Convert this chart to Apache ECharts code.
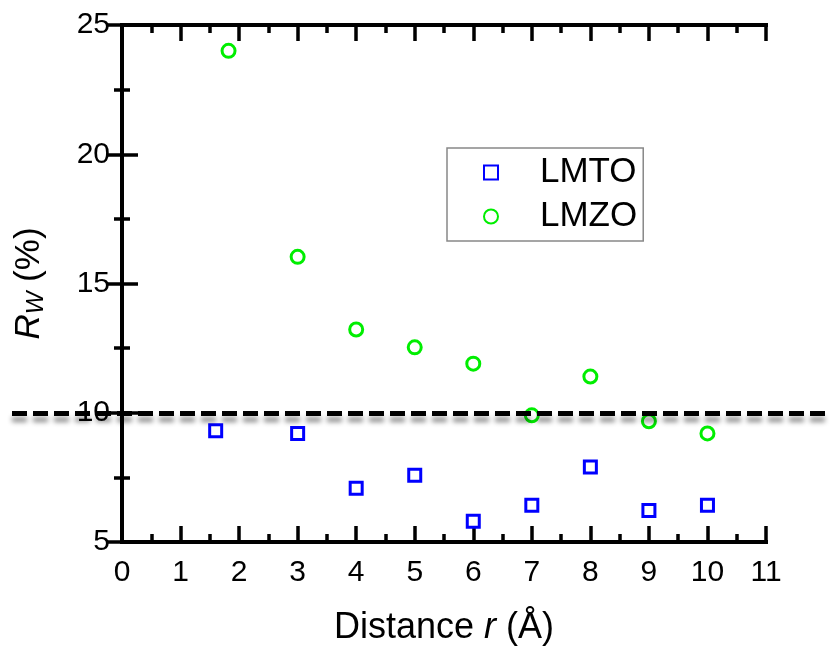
<!DOCTYPE html>
<html>
<head>
<meta charset="utf-8">
<script src="https://cdn.jsdelivr.net/npm/echarts@6/dist/echarts.min.js"></script>
<style>html,body{margin:0;padding:0;background:#fff}#c{width:831px;height:651px}</style>
</head>
<body>
<div id="c"></div>
<script>
const lmtoX = [1.6, 3, 4, 5, 6, 7, 8, 9, 10];
const lmtoY = [9.3, 9.2, 7.08, 7.58, 5.8, 6.42, 7.9, 6.22, 6.42];
const lmzoX = [1.82, 3, 4, 5, 6, 7, 8, 9, 10];
const lmzoY = [24.0, 16.03, 13.22, 12.53, 11.9, 9.9, 11.4, 9.67, 9.2];
const threshold = 10;
const xTicks = [0, 1, 2, 3, 4, 5, 6, 7, 8, 9, 10, 11];
const yTicks = [5, 10, 15, 20, 25];

const font = "'Liberation Sans', Arial, sans-serif";
function axisCommon() {
  return {
    axisLine: { show: true, lineStyle: { color: '#000', width: 4, cap: 'square' } },
    axisTick: { show: true, inside: true, length: 16, lineStyle: { color: '#000', width: 3.5 } },
    minorTick: { show: true, splitNumber: 2, length: 8, lineStyle: { color: '#000', width: 3.5 } },
    splitLine: { show: false }
  };
}
const xBase = { type: 'value', gridIndex: 0, min: xTicks[0], max: xTicks[xTicks.length - 1], interval: 1 };
const yBase = { type: 'value', gridIndex: 0, min: yTicks[0], max: yTicks[yTicks.length - 1], interval: 5 };

const chart = echarts.init(document.getElementById('c'));
chart.setOption({
  animation: false,
  backgroundColor: '#fff',
  grid: [
    { left: 122, right: 65, top: 25, bottom: 108 },
    { left: 12, right: 0, top: 25, bottom: 108 }
  ],
  legend: {
    orient: 'vertical',
    left: 447, top: 148,
    padding: [7, 6, 7, 36],
    itemWidth: 14, itemHeight: 14, itemGap: 9,
    borderColor: '#888', borderWidth: 1.5,
    textStyle: { fontFamily: font, fontSize: 35, color: '#000', lineHeight: 34, padding: [0, 0, 0, 37] },
    data: ['LMTO', 'LMZO']
  },
  xAxis: [
    Object.assign({}, xBase, axisCommon(), {
      position: 'bottom',
      axisLabel: { show: true, fontFamily: font, fontSize: 30, color: '#000', margin: 16 },
      name: 'Distance {i|r} (Å)', nameLocation: 'middle', nameGap: 68,
      nameTextStyle: { fontFamily: font, fontSize: 36, color: '#000', rich: { i: { fontFamily: font, fontSize: 36, fontStyle: 'italic', color: '#000' } } }
    }),
    Object.assign({}, xBase, axisCommon(), { position: 'top', axisLabel: { show: false } }),
    { type: 'value', gridIndex: 1, min: 0, max: 1, show: false }
  ],
  yAxis: [
    Object.assign({}, yBase, axisCommon(), {
      position: 'left',
      axisLabel: { show: true, fontFamily: font, fontSize: 30, color: '#000', margin: 12 },
      name: '{i|R}{s|W}{n| (%)}', nameLocation: 'middle', nameGap: 74,
      nameTextStyle: {
        fontFamily: font, fontSize: 35, color: '#000',
        rich: {
          i: { fontFamily: font, fontSize: 35, fontStyle: 'italic', color: '#000' },
          s: { fontFamily: font, fontSize: 24, fontStyle: 'italic', color: '#000', padding: [14, 0, 0, 0] },
          n: { fontFamily: font, fontSize: 35, color: '#000' }
        }
      }
    }),
    Object.assign({}, yBase, axisCommon(), { position: 'right', axisLabel: { show: false } }),
    { type: 'value', gridIndex: 1, min: yTicks[0], max: yTicks[yTicks.length - 1], show: false }
  ],
  series: [
    {
      name: 'LMTO', type: 'scatter', xAxisIndex: 0, yAxisIndex: 0,
      symbol: 'rect', symbolSize: 12,
      itemStyle: { color: '#fff', borderColor: '#0000ff', borderWidth: 3, opacity: 1 },
      data: lmtoX.map((x, i) => [x, lmtoY[i]]), z: 5
    },
    {
      name: 'LMZO', type: 'scatter', xAxisIndex: 0, yAxisIndex: 0,
      symbol: 'circle', symbolSize: 13,
      itemStyle: { color: '#fff', borderColor: '#00ee00', borderWidth: 3, opacity: 1 },
      data: lmzoX.map((x, i) => [x, lmzoY[i]]), z: 5
    },
    {
      name: 'threshold', type: 'line', xAxisIndex: 2, yAxisIndex: 2, data: [],
      markLine: {
        silent: true, symbol: ['none', 'none'], z: 20,
        label: { show: false },
        lineStyle: { color: '#000', width: 5, type: [15, 6], shadowColor: 'rgba(0,0,0,0.45)', shadowBlur: 5, shadowOffsetY: 6 },
        data: [{ yAxis: threshold }]
      }
    }
  ]
});
</script>
</body>
</html>
